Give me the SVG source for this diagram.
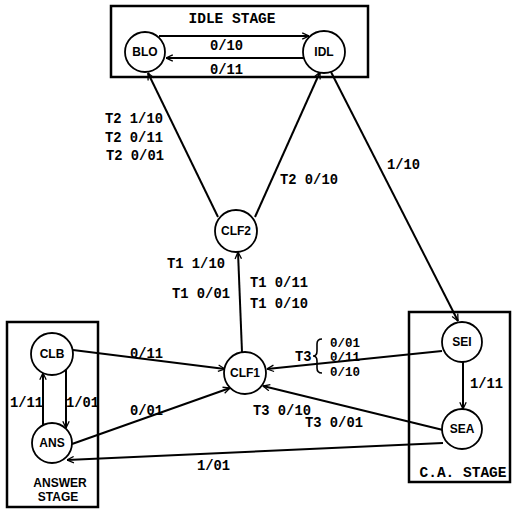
<svg xmlns="http://www.w3.org/2000/svg" width="513" height="509" viewBox="0 0 513 509">
<style>
.box{fill:none;stroke:#000;stroke-width:2.5}
.node{fill:#fff;stroke:#000;stroke-width:1.8}
.nl{font-family:"Liberation Sans",Arial,sans-serif;font-weight:bold;font-size:12px;text-anchor:middle;fill:#000}
.el{font-family:"Liberation Mono","Courier New",monospace;font-weight:bold;font-size:13.8px;fill:#000}
.br{font-family:"Liberation Mono","Courier New",monospace;font-weight:bold;font-size:12.5px;fill:#000}
.st{font-family:"Liberation Mono","Courier New",monospace;font-weight:bold;font-size:14.5px;fill:#000;text-anchor:middle}
.st2{font-family:"Liberation Sans",Arial,sans-serif;font-weight:bold;font-size:12px;fill:#000;text-anchor:middle}
.edge{fill:none;stroke:#000;stroke-width:2;marker-end:url(#arr)}
.plain{fill:none;stroke:#000;stroke-width:1.6}
</style>
<defs>
<marker id="arr" viewBox="0 0 10 10" refX="9.5" refY="5" markerWidth="8" markerHeight="8" markerUnits="userSpaceOnUse" orient="auto">
<path d="M1,1 L9.5,5 L1,9" fill="none" stroke="#000" stroke-width="1.6"/>
</marker>
</defs>
<rect width="513" height="509" fill="#fff"/>

<g id="stages">
<rect class="box" x="111" y="6" width="257" height="71"/>
<text class="st" x="232" y="23">IDLE STAGE</text>
<rect class="box" x="7" y="322" width="91" height="185"/>
<text class="st2" x="60" y="487">ANSWER</text>
<text class="st2" x="58" y="501">STAGE</text>
<rect class="box" x="409" y="312" width="101" height="170"/>
<text class="st" x="463" y="477">C.A. STAGE</text>
</g>

<g id="connectors">
<line class="edge" x1="159" y1="36" x2="309" y2="36"/>
<text class="el" x="210" y="50">0/10</text>
<line class="edge" x1="305" y1="58" x2="166" y2="58"/>
<text class="el" x="210" y="74">0/11</text>

<line class="edge" x1="218" y1="217" x2="148" y2="73"/>
<text class="el" x="105" y="123">T2 1/10</text>
<text class="el" x="105" y="142">T2 0/11</text>
<text class="el" x="106" y="160">T2 0/01</text>

<line class="edge" x1="255" y1="217" x2="320" y2="72"/>
<text class="el" x="280" y="184">T2 0/10</text>

<line class="edge" x1="331" y1="72" x2="458" y2="321"/>
<text class="el" x="387" y="169">1/10</text>

<line class="edge" x1="242" y1="352" x2="238" y2="252"/>
<text class="el" x="167" y="268">T1 1/10</text>
<text class="el" x="172" y="298">T1 0/01</text>
<text class="el" x="250" y="287">T1 0/11</text>
<text class="el" x="250" y="308">T1 0/10</text>

<line class="edge" x1="73" y1="350" x2="225" y2="369"/>
<text class="el" x="130" y="358">0/11</text>
<line class="edge" x1="72" y1="444" x2="230" y2="388"/>
<text class="el" x="130" y="415">0/01</text>

<line class="edge" x1="43" y1="425" x2="43" y2="373"/>
<text class="el" x="10" y="407">1/11</text>
<line class="edge" x1="66" y1="370" x2="66" y2="428"/>
<text class="el" x="66" y="407">1/01</text>

<line class="edge" x1="442" y1="351" x2="267" y2="369"/>
<text class="el" x="295" y="361">T3</text>
<path class="plain" d="M322,339 Q317,339 317,344 L317,351 Q317,356 313,356 Q317,356 317,361 L317,368 Q317,373 322,373"/>
<text class="br" x="330" y="347">0/01</text>
<text class="br" x="330" y="361">0/11</text>
<text class="br" x="330" y="376">0/10</text>

<line class="edge" x1="443" y1="430" x2="263" y2="386"/>
<text class="el" x="253" y="415">T3 0/10</text>
<text class="el" x="305" y="427">T3 0/01</text>

<line class="edge" x1="443" y1="443" x2="67" y2="460"/>
<text class="el" x="197" y="470">1/01</text>

<line class="edge" x1="463" y1="362" x2="463" y2="409"/>
<text class="el" x="470" y="388">1/11</text>
</g>

<g id="BLO"><circle class="node" cx="145" cy="52" r="20"/><text class="nl" x="145" y="56">BLO</text></g>
<g id="IDL"><circle class="node" cx="324" cy="52" r="21"/><text class="nl" x="324" y="56">IDL</text></g>
<g id="CLF2"><circle class="node" cx="236" cy="231" r="21"/><text class="nl" x="236" y="235">CLF2</text></g>
<g id="CLF1"><circle class="node" cx="245" cy="373" r="21"/><text class="nl" x="245" y="377">CLF1</text></g>
<g id="CLB"><circle class="node" cx="52" cy="354" r="21"/><text class="nl" x="52" y="358">CLB</text></g>
<g id="ANS"><circle class="node" cx="52" cy="443" r="20"/><text class="nl" x="52" y="447">ANS</text></g>
<g id="SEI"><circle class="node" cx="462" cy="342" r="20"/><text class="nl" x="462" y="346">SEI</text></g>
<g id="SEA"><circle class="node" cx="462" cy="429" r="20"/><text class="nl" x="462" y="433">SEA</text></g>
</svg>
